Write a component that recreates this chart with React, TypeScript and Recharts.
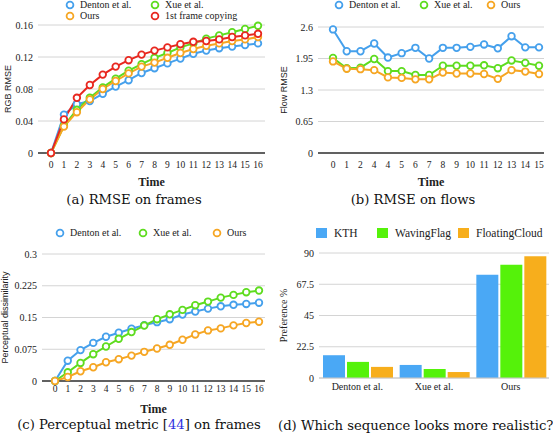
import React from "react";
import {
  Bar,
  BarChart,
  CartesianGrid,
  Legend,
  Line,
  LineChart,
  XAxis,
  YAxis,
} from "recharts";

// x categories
const frameTicks = ["0", "1", "2", "3", "4", "5", "6", "7", "8", "9", "10", "11", "12", "13", "14", "15", "16"];
// (sic) the original flow plot repeats "4"
const flowTicks = ["0", "1", "2", "4", "4", "5", "6", "7", "8", "9", "10", "11", "12", "13", "14", "15"];
const methods = ["Denton et al.", "Xue et al.", "Ours"];

// (a) RMSE on frames
const rmseDenton = [0, 0.048, 0.061, 0.065, 0.074, 0.083, 0.091, 0.1, 0.106, 0.112, 0.118, 0.124, 0.128, 0.131, 0.133, 0.135, 0.137];
const rmseXue = [0, 0.034, 0.054, 0.069, 0.082, 0.093, 0.103, 0.111, 0.119, 0.125, 0.132, 0.137, 0.143, 0.147, 0.151, 0.155, 0.159];
const rmseOurs = [0, 0.033, 0.051, 0.067, 0.08, 0.09, 0.0995, 0.108, 0.113, 0.119, 0.125, 0.13, 0.134, 0.137, 0.14, 0.142, 0.145];
const rmseCopy = [0, 0.042, 0.069, 0.085, 0.098, 0.108, 0.116, 0.123, 0.128, 0.132, 0.136, 0.139, 0.14, 0.142, 0.145, 0.147, 0.149];

// (b) RMSE on flows
const flowDenton = [2.55, 2.1, 2.1, 2.26, 1.97, 2.06, 2.17, 1.95, 2.17, 2.17, 2.19, 2.24, 2.16, 2.41, 2.18, 2.18];
const flowXue = [1.96, 1.75, 1.76, 1.94, 1.69, 1.69, 1.61, 1.61, 1.8, 1.8, 1.8, 1.81, 1.75, 1.91, 1.86, 1.8];
const flowOurs = [1.89, 1.74, 1.73, 1.71, 1.56, 1.55, 1.52, 1.52, 1.66, 1.64, 1.64, 1.63, 1.53, 1.71, 1.68, 1.63];

// (c) perceptual metric
const percDenton = [0, 0.048, 0.073, 0.09, 0.1045, 0.114, 0.1235, 0.132, 0.139, 0.146, 0.157, 0.164, 0.171, 0.1765, 0.18, 0.182, 0.185];
const percXue = [0, 0.0206, 0.0427, 0.0633, 0.0815, 0.0997, 0.1156, 0.131, 0.146, 0.1575, 0.168, 0.179, 0.1876, 0.197, 0.2034, 0.2098, 0.2137];
const percOurs = [0, 0.0095, 0.023, 0.0325, 0.0443, 0.0515, 0.06, 0.0689, 0.0768, 0.0855, 0.0974, 0.11, 0.1195, 0.1243, 0.1314, 0.137, 0.14];

// (d) user preference %
const prefKTH = [16.4, 9.4, 74.3];
const prefWaving = [11.6, 6.5, 81.6];
const prefCloud = [8.0, 4.3, 87.6];

const rmseTicks = [0, 0.04, 0.08, 0.12, 0.16];
const flowYTicks = [0, 0.65, 1.3, 1.95, 2.6];
const percTicks = [0, 0.075, 0.15, 0.225, 0.3];
const prefTicks = [0, 22.5, 45, 67.5, 90];

const BLUE = "#45a0ec";
const GREEN = "#5edc1f";
const ORANGE = "#f6a623";
const RED = "#e8271f";

const SERIF = "Liberation Serif";
const SANS = "Liberation Sans";
const CAPTION = "DejaVu Serif";

const frameData = frameTicks.map((t, i) => ({
  t,
  denton: rmseDenton[i],
  xue: rmseXue[i],
  ours: rmseOurs[i],
  copy: rmseCopy[i],
}));
const flowData = flowTicks.map((t, i) => ({
  t,
  denton: flowDenton[i],
  xue: flowXue[i],
  ours: flowOurs[i],
}));
const percData = frameTicks.map((t, i) => ({
  t,
  denton: percDenton[i],
  xue: percXue[i],
  ours: percOurs[i],
}));
const prefData = methods.map((m, i) => ({
  m,
  kth: prefKTH[i],
  waving: prefWaving[i],
  cloud: prefCloud[i],
}));

const tickStyle = { fill: "#222", fontSize: 10, fontFamily: SERIF };
const dotStyle = { r: 3.3, strokeWidth: 1.8, fill: "#fff" };

function RingLegend(props: any) {
  const { payload, order, columns, square, fontSize } = props;
  // keep the series order, the library sorts legend items by name
  const items = [...(payload || [])].sort(
    (a: any, b: any) => order.indexOf(a.value) - order.indexOf(b.value)
  );
  return (
    <div
      style={{
        display: "grid",
        gridTemplateColumns: columns,
        fontFamily: SERIF,
        fontSize: fontSize || 10,
        color: "#222",
        lineHeight: square ? "14px" : "11px",
      }}
    >
      {items.map((p: any) => (
        <div key={p.value} style={{ display: "flex", alignItems: "center", whiteSpace: "nowrap" }}>
          {square ? (
            <span style={{ width: 11, height: 10, background: p.color, display: "inline-block", marginRight: 7 }} />
          ) : (
            <svg width={10} height={10} style={{ marginRight: 5 }}>
              <circle cx={5} cy={5} r={3.4} fill="#fff" stroke={p.color} strokeWidth={1.8} />
            </svg>
          )}
          <span>{p.value}</span>
        </div>
      ))}
    </div>
  );
}

function yLabel(value: string, offset: number, family: string, size: number) {
  return {
    value,
    angle: -90,
    position: "insideLeft" as const,
    offset,
    style: { textAnchor: "middle", fontFamily: family, fontSize: size, fill: "#222" },
  };
}

const timeLabel = (offset: number) => ({
  value: "Time",
  position: "insideBottom" as const,
  offset,
  style: { fontFamily: SERIF, fontSize: 12, fontWeight: 700, fill: "#222" },
});

function Caption({ x, y, children }: { x: number; y: number; children: React.ReactNode }) {
  return (
    <div
      style={{
        position: "absolute",
        left: x - 200,
        top: y - 9,
        width: 400,
        textAlign: "center",
        fontFamily: CAPTION,
        fontSize: 13.2,
        lineHeight: "18px",
        whiteSpace: "nowrap",
        color: "#111",
      }}
    >
      {children}
    </div>
  );
}

const legendBase = { layout: "horizontal" as const, verticalAlign: "middle" as const, align: "center" as const };

export default function App() {
  return (
    <div
      style={{
        position: "absolute",
        left: 0,
        top: 0,
        width: 553,
        height: 435,
        overflow: "hidden",
        background: "#fff",
      }}
    >
      {/* (a) */}
      <div style={{ position: "absolute", left: 0, top: 0 }}>
        <LineChart width={276} height={192} data={frameData} margin={{ top: 25, right: 11, left: 0, bottom: 0 }}>
          <CartesianGrid vertical={false} stroke="#d4d4d4" />
          <XAxis
            dataKey="t"
            height={39}
            padding={{ left: 13, right: 7 }}
            tick={{ ...tickStyle, fontSize: 9.5 }}
            tickLine={false}
            tickSize={0}
            tickMargin={8}
            axisLine={{ stroke: "#333", strokeWidth: 1.4 }}
            interval={0}
            label={timeLabel(6)}
          />
          <YAxis
            width={38}
            domain={[0, 0.16]}
            ticks={rmseTicks}
            tick={tickStyle}
            tickLine={false}
            tickSize={0}
            tickMargin={5}
            axisLine={false}
            label={yLabel("RGB RMSE", 8, SANS, 9)}
          />
          <Legend
            {...legendBase}
            wrapperStyle={{ left: 65, top: -1, width: 200 }}
            content={(p: any) => (
              <RingLegend
                payload={p.payload}
                order={["Denton et al.", "Xue et al.", "Ours", "1st frame copying"]}
                columns="85px auto"
              />
            )}
          />
          <Line dataKey="denton" name="Denton et al." stroke={BLUE} strokeWidth={2} dot={dotStyle} isAnimationActive={false} />
          <Line dataKey="xue" name="Xue et al." stroke={GREEN} strokeWidth={2} dot={dotStyle} isAnimationActive={false} />
          <Line dataKey="ours" name="Ours" stroke={ORANGE} strokeWidth={2} dot={dotStyle} isAnimationActive={false} />
          <Line dataKey="copy" name="1st frame copying" stroke={RED} strokeWidth={2} dot={dotStyle} isAnimationActive={false} />
        </LineChart>
      </div>

      {/* (b) */}
      <div style={{ position: "absolute", left: 276, top: 0 }}>
        <LineChart width={277} height={192} data={flowData} margin={{ top: 27, right: 9, left: 0, bottom: 0 }}>
          <CartesianGrid vertical={false} stroke="#d4d4d4" />
          <XAxis
            dataKey="t"
            height={39}
            padding={{ left: 15, right: 5 }}
            tick={{ ...tickStyle, fontSize: 9.5 }}
            tickLine={false}
            tickSize={0}
            tickMargin={8}
            axisLine={{ stroke: "#333", strokeWidth: 1.4 }}
            interval={0}
            label={timeLabel(6)}
          />
          <YAxis
            width={42}
            domain={[0, 2.6]}
            ticks={flowYTicks}
            tick={tickStyle}
            tickLine={false}
            tickSize={0}
            tickMargin={5}
            axisLine={false}
            label={yLabel("Flow RMSE", 8, SANS, 9)}
          />
          <Legend
            {...legendBase}
            wrapperStyle={{ left: 58, top: -1, width: 215 }}
            content={(p: any) => (
              <RingLegend payload={p.payload} order={methods} columns="85px 67px auto" />
            )}
          />
          <Line dataKey="denton" name="Denton et al." stroke={BLUE} strokeWidth={2} dot={dotStyle} isAnimationActive={false} />
          <Line dataKey="xue" name="Xue et al." stroke={GREEN} strokeWidth={2} dot={dotStyle} isAnimationActive={false} />
          <Line dataKey="ours" name="Ours" stroke={ORANGE} strokeWidth={2} dot={dotStyle} isAnimationActive={false} />
        </LineChart>
      </div>

      {/* (c) */}
      <div style={{ position: "absolute", left: 0, top: 215 }}>
        <LineChart width={276} height={205} data={percData} margin={{ top: 39, right: 11, left: 0, bottom: 0 }}>
          <CartesianGrid vertical={false} stroke="#d4d4d4" />
          <XAxis
            dataKey="t"
            height={39}
            padding={{ left: 13, right: 6 }}
            tick={{ ...tickStyle, fontSize: 9.5 }}
            tickLine={false}
            tickSize={0}
            tickMargin={4}
            axisLine={{ stroke: "#333", strokeWidth: 1.4 }}
            interval={0}
            label={timeLabel(7)}
          />
          <YAxis
            width={42}
            domain={[0, 0.3]}
            ticks={percTicks}
            tick={tickStyle}
            tickLine={false}
            tickSize={0}
            tickMargin={5}
            axisLine={false}
            label={yLabel("Perceptual dissimilarity", 5, SANS, 9)}
          />
          <Legend
            {...legendBase}
            wrapperStyle={{ left: 55, top: 12, width: 215 }}
            content={(p: any) => (
              <RingLegend payload={p.payload} order={methods} columns="83px 74px auto" />
            )}
          />
          <Line dataKey="denton" name="Denton et al." stroke={BLUE} strokeWidth={2} dot={dotStyle} isAnimationActive={false} />
          <Line dataKey="xue" name="Xue et al." stroke={GREEN} strokeWidth={2} dot={dotStyle} isAnimationActive={false} />
          <Line dataKey="ours" name="Ours" stroke={ORANGE} strokeWidth={2} dot={dotStyle} isAnimationActive={false} />
        </LineChart>
      </div>

      {/* (d) */}
      <div style={{ position: "absolute", left: 276, top: 215 }}>
        <BarChart
          width={277}
          height={185}
          data={prefData}
          margin={{ top: 38, right: 4, left: 0, bottom: 0 }}
          barCategoryGap={4}
          barGap={2}
        >
          <CartesianGrid vertical={false} stroke="#d4d4d4" />
          <XAxis
            dataKey="m"
            height={22}
            tick={tickStyle}
            tickLine={false}
            tickSize={0}
            tickMargin={5}
            axisLine={{ stroke: "#c8c8c8" }}
          />
          <YAxis
            width={43}
            domain={[0, 90]}
            ticks={prefTicks}
            tick={tickStyle}
            tickLine={false}
            tickSize={0}
            tickMargin={5}
            axisLine={false}
            label={yLabel("Preference %", 7, SERIF, 10)}
          />
          <Legend
            {...legendBase}
            wrapperStyle={{ left: 40, top: 11, width: 237 }}
            content={(p: any) => (
              <RingLegend
                payload={p.payload}
                order={["KTH", "WavingFlag", "FloatingCloud"]}
                columns="61px 81px auto"
                square
                fontSize={11.5}
              />
            )}
          />
          <Bar dataKey="kth" name="KTH" fill="#4aa8f5" isAnimationActive={false} />
          <Bar dataKey="waving" name="WavingFlag" fill="#55f20a" isAnimationActive={false} />
          <Bar dataKey="cloud" name="FloatingCloud" fill="#f7ae1c" isAnimationActive={false} />
        </BarChart>
      </div>

      <Caption x={134} y={200}>(a) RMSE on frames</Caption>
      <Caption x={413} y={200}>(b) RMSE on flows</Caption>
      <Caption x={139} y={425}>
        (c) Perceptual metric [<span style={{ color: "#2f2fe0" }}>44</span>] on frames
      </Caption>
      <div
        style={{
          position: "absolute",
          left: 278,
          top: 417,
          fontFamily: CAPTION,
          fontSize: 13.2,
          lineHeight: "18px",
          whiteSpace: "nowrap",
          color: "#111",
        }}
      >
        (d) Which sequence looks more realistic?
      </div>
    </div>
  );
}
